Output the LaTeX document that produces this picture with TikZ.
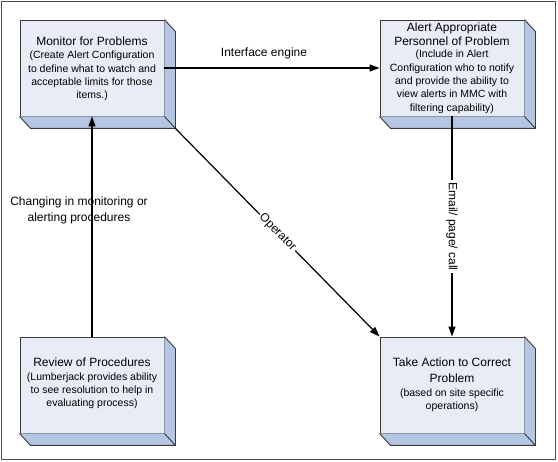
\documentclass[tikz,border=0pt]{standalone}
\usepackage{fontspec}
\setmainfont{Liberation Sans}
\usetikzlibrary{arrows.meta,calc}
\definecolor{facecol}{HTML}{E8ECF6}
\definecolor{sidecol}{HTML}{B4C6E1}
\definecolor{edgecol}{HTML}{3A3A3A}
\begin{document}
\begin{tikzpicture}[x=1pt,y=-1pt,
  face/.style={draw=edgecol,line width=0.9pt,fill=facecol,minimum width=144pt,minimum height=96pt,inner sep=0pt},
  side/.style={draw=edgecol,line width=0.9pt,fill=sidecol,line join=miter},
  conn/.style={draw=black,line width=1.2pt,-{Triangle[length=10pt,width=7pt]}},
  lbl/.style={font=\fontsize{12}{16}\selectfont,align=center},
  ttl/.style={anchor=base,inner sep=0pt,font=\fontsize{12}{14}\selectfont},
  sub/.style={anchor=base,inner sep=0pt,font=\fontsize{10.5}{13.5}\selectfont}
]
\useasboundingbox (0,0) rectangle (558,462);
\draw[draw=black!70,line width=1pt] (1.5,1.5) rectangle (555.5,459.5);

\newcommand{\boxdepth}[1]{%
  \fill[sidecol] (#1.north east) -- ($(#1.north east)+(11,12)$) -- ($(#1.south east)+(11,12)$) -- ($(#1.south west)+(11,12)$) -- (#1.south west) -- (#1.south east) -- cycle;
  \draw[side,fill=none] (#1.north east) -- ($(#1.north east)+(11,12)$) -- ($(#1.south east)+(11,12)$) -- ($(#1.south west)+(11,12)$) -- (#1.south west);
  \draw[side] (#1.south east) -- ($(#1.south east)+(11,12)$);
}

\node[face] (mon) at (92,68) {};
\node[face] (alr) at (452,68) {};
\node[face] (rev) at (92,385) {};
\node[face] (act) at (452,385) {};

\boxdepth{mon}
\boxdepth{alr}
\boxdepth{rev}
\boxdepth{act}

% Monitor text
\node[ttl] (mon1) at (92,46) {Monitor for Problems};
\node[sub] (mon2) at (92,59) {(Create Alert Configuration};
\node[sub] (mon3) at (92,73) {to define what to watch and};
\node[sub] (mon4) at (92,86) {acceptable limits for those};
\node[sub] (mon5) at (92,99) {items.)};
% Alert text
\node[ttl] (alr1) at (452,32) {Alert Appropriate};
\node[ttl] (alr2) at (452,46) {Personnel of Problem};
\node[sub] (alr3) at (452,58) {(Include in Alert};
\node[sub] (alr4) at (452,72) {Configuration who to notify};
\node[sub] (alr5) at (452,85) {and provide the ability to};
\node[sub] (alr6) at (452,98) {view alerts in MMC with};
\node[sub] (alr7) at (452,112) {filtering capability)};
% Review text
\node[ttl] (rev1) at (92,367) {Review of Procedures};
\node[sub] (rev2) at (92,381) {(Lumberjack provides ability};
\node[sub] (rev3) at (92,394) {to see resolution to help in};
\node[sub] (rev4) at (92,407) {evaluating process)};
% Take action text
\node[ttl] (act1) at (452,367) {Take Action to Correct};
\node[ttl] (act2) at (452,383) {Problem};
\node[sub] (act3) at (452,397) {(based on site specific};
\node[sub] (act4) at (452,410) {operations)};

\coordinate (monback) at ($(mon.south east)+(11,12)$);

\draw[conn] (mon.east) -- (alr.west);
\node[lbl] (lie) at (264,53) {Interface engine};
\draw[conn] (rev.north) -- (mon.south);
\node[lbl] (lch) at (79,210) {Changing in monitoring or\\alerting procedures};
\draw[conn] (monback) -- (act.north west) node[midway,sloped,fill=white,inner sep=1.5pt,lbl] (lop) {Operator};
\draw[conn] (alr.south) -- (act.north) node[midway,fill=white,inner sep=2pt,lbl,rotate=-90] (lem) {Email/ page/ call};
\end{tikzpicture}
\end{document}
